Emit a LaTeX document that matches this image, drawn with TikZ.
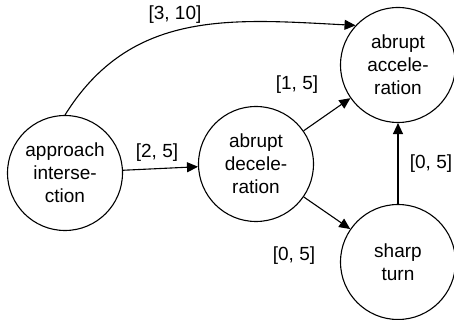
\documentclass[tikz,border=0pt]{standalone}
\usepackage{fontspec}
\setmainfont{Liberation Sans}
\usetikzlibrary{arrows.meta}
\begin{document}
\begin{tikzpicture}[x=1pt,y=1pt,
  state/.style={circle,draw,line width=1.1pt,minimum size=115pt,inner sep=0pt,align=center,
    font=\fontsize{19}{23}\selectfont},
  lbl/.style={font=\fontsize{19}{23}\selectfont,inner sep=0pt},
  edge/.style={line width=1.1pt,-{Triangle[length=11pt,width=10pt]}}]
\useasboundingbox (0,0) rectangle (454,320);
\node[state] (app) at (65,147) {approach\\interse-\\ction};
\node[state] (dec) at (256,156) {abrupt\\decele-\\ration};
\node[state] (acc) at (398,255) {abrupt\\accele-\\ration};
\node[state] (sharp) at (398,58) {sharp\\turn};
\node[lbl] (l1) at (175,305) {[3, 10]};
\node[lbl] (l2) at (157,167) {[2, 5]};
\node[lbl] (l3) at (297,235) {[1, 5]};
\node[lbl] (l4) at (294,64) {[0, 5]};
\node[lbl] (l5) at (431,156) {[0, 5]};
\draw[edge] (app.north) to[out=58,in=177,looseness=1.05] (acc.137);
\draw[edge] (app) -- (dec);
\draw[edge] (dec) -- (acc);
\draw[edge] (dec) -- (sharp);
\draw[edge] (sharp) -- (acc);
\end{tikzpicture}
\end{document}
